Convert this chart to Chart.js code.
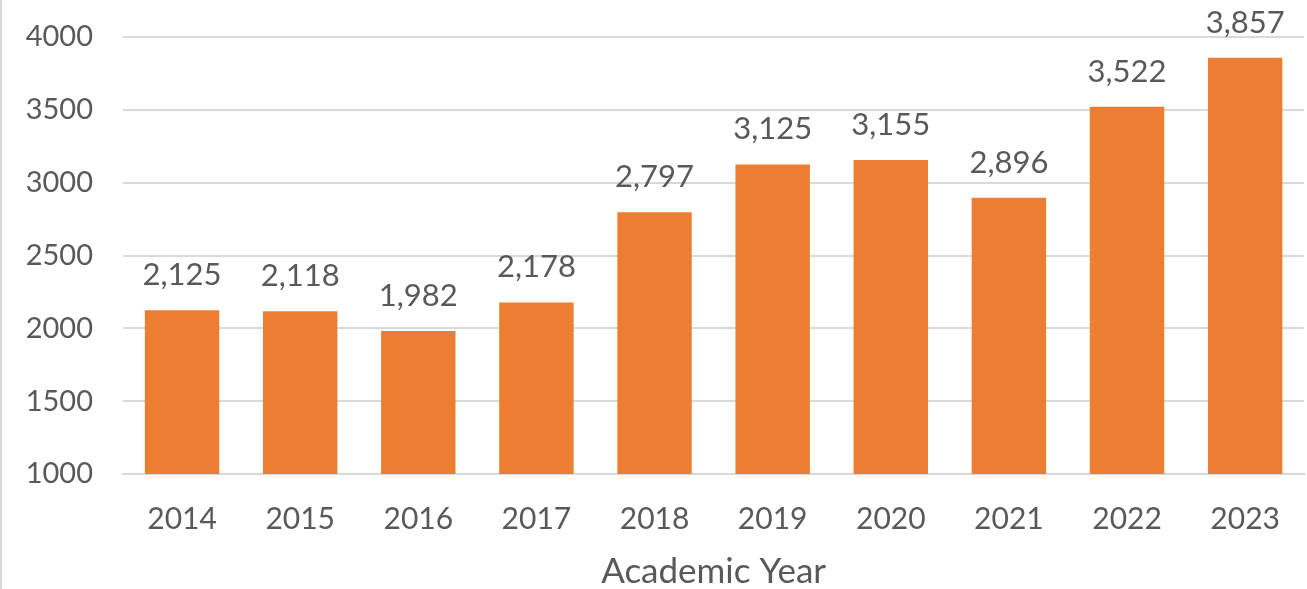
<!DOCTYPE html>
<html>
<head>
<meta charset="utf-8">
<script src="https://cdn.jsdelivr.net/npm/chart.js@4/dist/chart.umd.min.js"></script>
<style>
  html, body { margin: 0; padding: 0; background: #fff; }
  #wrap { position: relative; width: 1307px; height: 589px; }
</style>
</head>
<body>
<div id="wrap"><canvas id="chart"></canvas></div>
<script>
// data
const years = ['2014', '2015', '2016', '2017', '2018', '2019', '2020', '2021', '2022', '2023'];
const students = [2125, 2118, 1982, 2178, 2797, 3125, 3155, 2896, 3522, 3857];
const yTicks = [1000, 1500, 2000, 2500, 3000, 3500, 4000];

const textColor = '#595959';
const gridColor = '#d9d9d9';
const fontFamily = 'Lato, "Open Sans", sans-serif';

// labels above each bar
const valueLabels = {
    id: 'valueLabels',
    afterDatasetsDraw(chart) {
        const ctx = chart.ctx;
        const meta = chart.getDatasetMeta(0);
        ctx.save();
        ctx.fillStyle = textColor;
        ctx.font = '31px ' + fontFamily;
        ctx.textAlign = 'center';
        ctx.textBaseline = 'alphabetic';
        meta.data.forEach((bar, i) => {
            ctx.fillText(students[i].toLocaleString('en-US'), bar.x, bar.y - 25);
        });
        ctx.restore();
    }
};

// thin frame line on the left edge
const frameLine = {
    id: 'frameLine',
    beforeDraw(chart) {
        const ctx = chart.ctx;
        ctx.save();
        ctx.fillStyle = gridColor;
        ctx.fillRect(0, 0, 2, chart.height);
        ctx.restore();
    }
};

new Chart(document.getElementById('chart'), {
    type: 'bar',
    data: {
        labels: years,
        datasets: [{
            data: students,
            backgroundColor: '#ED7D31',
            borderWidth: 0,
            barPercentage: 0.63,
            categoryPercentage: 1
        }]
    },
    options: {
        responsive: true,
        maintainAspectRatio: false,
        animation: false,
        layout: { padding: { top: 37, right: 1, left: 0, bottom: 0 } },
        scales: {
            x: {
                grid: { display: false, drawTicks: false },
                border: { display: true, color: gridColor, width: 2 },
                ticks: {
                    color: textColor,
                    font: { family: fontFamily, size: 30 },
                    padding: 27
                },
                title: {
                    display: true,
                    text: 'Academic Year',
                    color: textColor,
                    font: { family: fontFamily, size: 35, lineHeight: 1 },
                    padding: { top: 0, bottom: 0 }
                },
                afterFit(scale) { scale.height = 115; }
            },
            y: {
                min: 1000,
                max: 4000,
                afterBuildTicks(scale) {
                    scale.ticks = yTicks.map(v => ({ value: v }));
                },
                grid: { color: gridColor, lineWidth: 2, drawTicks: false },
                border: { display: false },
                ticks: {
                    color: textColor,
                    font: { family: fontFamily, size: 29 },
                    padding: 30,
                    callback: v => String(v)
                },
                afterFit(scale) {
                    scale.width = 123;
                    scale.paddingTop = 0;
                    scale.paddingBottom = 0;
                }
            }
        },
        plugins: {
            legend: { display: false },
            tooltip: { enabled: false }
        }
    },
    plugins: [valueLabels, frameLine]
});
</script>
</body>
</html>
